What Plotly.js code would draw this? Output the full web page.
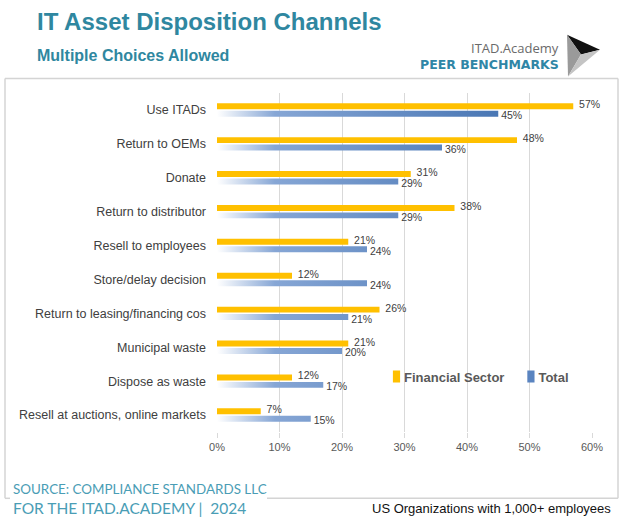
<!DOCTYPE html>
<html>
<head>
<meta charset="utf-8">
<script src="https://cdn.plot.ly/plotly-3.0.1.min.js"></script>
<style>
  html, body { margin: 0; padding: 0; background: #ffffff; }
  #chart { width: 626px; height: 523px; }
</style>
</head>
<body>
<div id="chart"></div>
<script>
const categories = [
  "Use ITADs",
  "Return to OEMs",
  "Donate",
  "Return to distributor",
  "Resell to employees",
  "Store/delay decision",
  "Return to leasing/financing cos",
  "Municipal waste",
  "Dispose as waste",
  "Resell at auctions, online markets"
];
const financialSector = [57, 48, 31, 38, 21, 12, 26, 21, 12, 7];
const total = [45, 36, 29, 29, 24, 24, 21, 20, 17, 15];
const xTickValues = [0, 10, 20, 30, 40, 50, 60];
const xTickLabels = ["0%", "10%", "20%", "30%", "40%", "50%", "60%"];

// plot area in pixels
const W = 626, H = 523;
const L = 217, R = 592, T = 92.5, B = 432.5;
const px = x => (x - L) / (R - L);
const py = y => (B - y) / (B - T);

const teal = "#2f87a0";
const sourceTeal = "#4a9db5";

const traces = [
  {
    type: "bar",
    orientation: "h",
    name: "Financial Sector",
    y: categories,
    x: financialSector,
    marker: { color: "#ffc000" },
    text: financialSector.map(v => "\u00a0\u00a0" + v + "%"),
    textposition: "outside",
    textfont: { family: "Liberation Sans, Arial, sans-serif", size: 10.5, color: "#404040" },
    constraintext: "none",
    cliponaxis: false,
    hoverinfo: "skip"
  },
  {
    type: "bar",
    orientation: "h",
    name: "Total",
    y: categories,
    x: total,
    marker: { color: "#5a84c0" },
    text: total.map(v => "\u00a0" + v + "%"),
    textposition: "outside",
    textfont: { family: "Liberation Sans, Arial, sans-serif", size: 10.5, color: "#404040" },
    constraintext: "none",
    cliponaxis: false,
    hoverinfo: "skip"
  }
];

const border = "#d4d4d4";
const shapes = [
  // frame
  { type: "line", xref: "paper", yref: "paper", x0: px(5), x1: px(618), y0: py(78), y1: py(78), line: { color: border, width: 1.5 } },
  { type: "line", xref: "paper", yref: "paper", x0: px(5), x1: px(5), y0: py(78), y1: py(499), line: { color: border, width: 1.5 } },
  { type: "line", xref: "paper", yref: "paper", x0: px(618), x1: px(618), y0: py(78), y1: py(499), line: { color: border, width: 1.5 } },
  { type: "line", xref: "paper", yref: "paper", x0: px(5), x1: px(10), y0: py(499), y1: py(499), line: { color: border, width: 1.5 } },
  { type: "line", xref: "paper", yref: "paper", x0: px(267), x1: px(618), y0: py(499), y1: py(499), line: { color: border, width: 1.5 } },
  // logo arrow
  { type: "path", xref: "paper", yref: "paper",
    path: `M ${px(567)} ${py(34)} L ${px(600)} ${py(49)} L ${px(581)} ${py(54)} Z`,
    fillcolor: "#111111", line: { width: 0 } },
  { type: "path", xref: "paper", yref: "paper",
    path: `M ${px(567)} ${py(34)} L ${px(581)} ${py(54)} L ${px(568)} ${py(76)} Z`,
    fillcolor: "#9a9a9a", line: { width: 0 } },
  { type: "path", xref: "paper", yref: "paper",
    path: `M ${px(581)} ${py(54)} L ${px(600)} ${py(49)} L ${px(568)} ${py(76)} Z`,
    fillcolor: "#c4c4c4", line: { width: 0 } }
];

const annotations = [
  { text: "<b>IT Asset Disposition Channels</b>", xref: "paper", yref: "paper", x: px(35), y: py(21),
    xanchor: "left", yanchor: "middle", showarrow: false,
    font: { family: "Liberation Sans, Arial, sans-serif", size: 24, color: teal } },
  { text: "<b>Multiple Choices Allowed</b>", xref: "paper", yref: "paper", x: px(35), y: py(55),
    xanchor: "left", yanchor: "middle", showarrow: false,
    font: { family: "Liberation Sans, Arial, sans-serif", size: 16, color: teal } },
  { text: "ITAD.Academy", xref: "paper", yref: "paper", x: px(561), y: py(47),
    xanchor: "right", yanchor: "middle", showarrow: false,
    font: { family: "Open Sans, sans-serif", size: 13, color: "#6a6a6a" } },
  { text: "<b>PEER BENCHMARKS</b>", xref: "paper", yref: "paper", x: px(561), y: py(64),
    xanchor: "right", yanchor: "middle", showarrow: false,
    font: { family: "DejaVu Sans, sans-serif", size: 12.5, color: "#2f86a6" } },
  { text: "SOURCE: COMPLIANCE STANDARDS LLC", xref: "paper", yref: "paper", x: px(11), y: py(490),
    xanchor: "left", yanchor: "middle", showarrow: false,
    font: { family: "Lato, sans-serif", size: 13.4, color: sourceTeal } },
  { text: "FOR THE ITAD.ACADEMY |\u00a0\u00a02024", xref: "paper", yref: "paper", x: px(11), y: py(509),
    xanchor: "left", yanchor: "middle", showarrow: false,
    font: { family: "Lato, sans-serif", size: 15.5, color: sourceTeal } },
  { text: "US Organizations with 1,000+ employees", xref: "paper", yref: "paper", x: px(613), y: py(509),
    xanchor: "right", yanchor: "middle", showarrow: false,
    font: { family: "Liberation Sans, Arial, sans-serif", size: 13, color: "#111111" } }
];

const layout = {
  width: W, height: H,
  margin: { l: L, r: W - R, t: T, b: H - B, pad: 0 },
  paper_bgcolor: "#ffffff",
  plot_bgcolor: "#ffffff",
  barmode: "group",
  bargap: 0.56,
  bargroupgap: 0.2,
  showlegend: true,
  legend: {
    orientation: "h",
    x: px(373), y: py(377), xanchor: "left", yanchor: "middle",
    bgcolor: "rgba(0,0,0,0)",
    font: { family: "Liberation Sans, Arial, sans-serif", size: 13, color: "#595959", weight: "bold" },
    itemwidth: 30,
    traceorder: "normal"
  },
  xaxis: {
    range: [0, 60],
    tickvals: xTickValues,
    ticktext: xTickLabels,
    showgrid: true,
    gridcolor: "#d9d9d9",
    gridwidth: 1,
    zeroline: false,
    showline: false,
    ticks: "outside",
    ticklen: 5,
    tickcolor: "#d9d9d9",
    tickfont: { family: "Liberation Sans, Arial, sans-serif", size: 11, color: "#595959" },
    fixedrange: true
  },
  yaxis: {
    autorange: "reversed",
    showgrid: false,
    zeroline: false,
    showline: false,
    ticks: "",
    ticklabelstandoff: 10,
    tickfont: { family: "Liberation Sans, Arial, sans-serif", size: 12.5, color: "#404040" },
    fixedrange: true
  },
  shapes: shapes,
  annotations: annotations
};

Plotly.newPlot("chart", traces, layout, { displayModeBar: false, staticPlot: true }).then(gd => {
  const svgNS = "http://www.w3.org/2000/svg";
  const svg = gd.querySelector(".main-svg");
  let defs = svg.querySelector("defs");
  if (!defs) { defs = document.createElementNS(svgNS, "defs"); svg.insertBefore(defs, svg.firstChild); }
  const grad = document.createElementNS(svgNS, "linearGradient");
  grad.setAttribute("id", "totalGrad");
  grad.setAttribute("gradientUnits", "userSpaceOnUse");
  grad.setAttribute("x1", "0"); grad.setAttribute("y1", "0");
  grad.setAttribute("x2", "290"); grad.setAttribute("y2", "0");
  [["0", "#ffffff"], ["0.2", "#86a6d5"], ["1", "#4775b3"]].forEach(([o, c]) => {
    const s = document.createElementNS(svgNS, "stop");
    s.setAttribute("offset", o); s.setAttribute("stop-color", c);
    grad.appendChild(s);
  });
  defs.appendChild(grad);

  const barTraces = gd.querySelectorAll(".barlayer .trace.bars");
  const shiftText = (trace, dy) => {
    trace.querySelectorAll(".point text").forEach(t => {
      const tr = t.getAttribute("transform") || "";
      t.setAttribute("transform", `translate(0,${dy}) ` + tr);
    });
  };
  if (barTraces.length > 1) {
    barTraces[1].querySelectorAll(".point path").forEach(p => {
      p.style.fill = "url(#totalGrad)";
    });
    shiftText(barTraces[0], -2);
    shiftText(barTraces[1], 1.5);
  }

  // tighten legend: narrower symbol, closer items
  const items = gd.querySelectorAll(".legend .traces");
  items.forEach((it, i) => {
    const txt = it.querySelector("text.legendtext");
    if (txt) txt.setAttribute("x", "31");
    const sym = it.querySelector(".legendpoints path");
    if (sym) {
      const tr = sym.getAttribute("transform") || "";
      sym.setAttribute("transform", tr + " translate(3.5,0) scale(0.6,1)");
    }
    if (i === 1) {
      const m = /translate\(([-\d.]+),\s*([-\d.]+)\)/.exec(it.getAttribute("transform") || "");
      if (m) it.setAttribute("transform", `translate(${parseFloat(m[1]) - 11},${m[2]})`);
    }
  });
});
</script>
</body>
</html>
